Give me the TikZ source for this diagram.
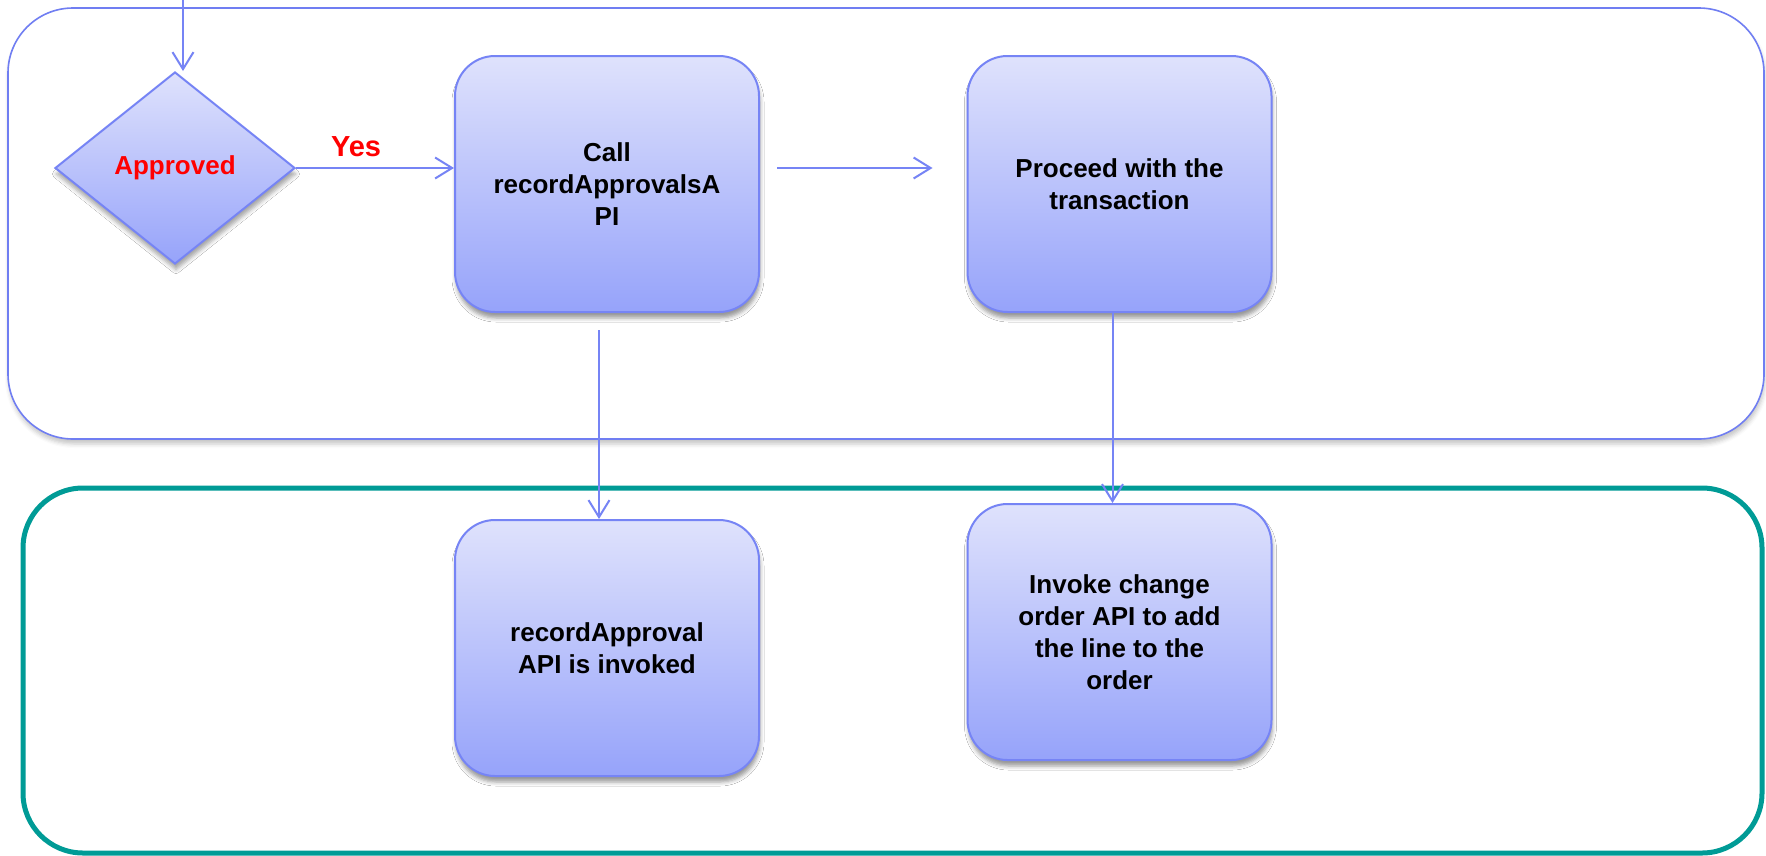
\documentclass[tikz,border=0pt]{standalone}
\usepackage{fontspec}
\setmainfont{Liberation Sans}
\usetikzlibrary{shapes.geometric,arrows.meta,shadows.blur,calc}

\definecolor{boxtop}{RGB}{223,226,252}
\definecolor{boxbot}{RGB}{150,163,250}
\definecolor{boxline}{RGB}{118,132,245}
\definecolor{laneline}{RGB}{112,126,242}
\definecolor{teal}{RGB}{0,155,150}
\definecolor{flagred}{RGB}{255,0,0}

\tikzset{
  lane/.style={draw=laneline, line width=1.6pt, rounded corners=65pt,
    fill=white, blur shadow={shadow xshift=1pt, shadow yshift=-5pt,
    shadow blur radius=4pt, shadow opacity=22}},
  lanetwo/.style={draw=teal, line width=5pt, rounded corners=60pt, fill=white},
  stepbox/.style={rectangle, rounded corners=40pt, draw=boxline, line width=2pt,
    top color=boxtop, bottom color=boxbot, minimum width=304pt,
    minimum height=256pt, inner sep=0pt, align=center,
    font=\fontsize{26}{32}\selectfont\bfseries,
    blur shadow={shadow xshift=1pt, shadow yshift=-6pt,
    shadow blur radius=4pt, shadow opacity=40}},
  decision/.style={diamond, draw=boxline, line width=2pt, top color=boxtop,
    bottom color=boxbot, minimum width=240pt, minimum height=192pt,
    inner sep=0pt, text=flagred, font=\fontsize{26}{32}\selectfont\bfseries,
    blur shadow={shadow xshift=1pt, shadow yshift=-6pt,
    shadow blur radius=4pt, shadow opacity=35}},
  arr/.style={draw=boxline, line width=2pt,
    -{Straight Barb[length=17pt, width=21pt, line width=2pt]}},
}

\begin{document}
\begin{tikzpicture}[x=1pt, y=-1pt]
  \useasboundingbox (0,0) rectangle (1766,855);

  % swimlanes
  \node[lane, minimum width=1756pt, minimum height=431pt, inner sep=0pt]
    (lanetop) at (886,223.5) {};
  \node[lanetwo, minimum width=1739pt, minimum height=365pt, inner sep=0pt]
    (lanebot) at (892.5,670.5) {};

  % decision and process steps
  \node[decision] (dia) at (175,168) {Approved};
  \node[stepbox] (b1) at (607,184) {Call\\recordApprovalsA\\PI};
  \node[stepbox] (b2) at (1119.5,184) {Proceed with the\\transaction};
  \node[stepbox] (b3) at (607,648) {recordApproval\\API is invoked};
  \node[stepbox] (b4) at (1119.5,632) {Invoke change\\order API to add\\the line to the\\order};

  % connectors
  \coordinate (entry) at (183,0);
  \draw[arr] (entry) -- (entry |- dia.north);
  \draw[arr] (dia.east) -- (dia.east -| b1.west)
    node[pos=0.38, yshift=21pt, text=flagred,
      font=\fontsize{29}{34}\selectfont\bfseries] (yes) {Yes};
  \draw[arr, shorten <=17pt, shorten >=34pt] (b1.east |- dia.east) -- (b2.west |- dia.east);
  \draw[arr, shorten <=17pt] ([xshift=-8pt]b1.south) -- ([xshift=-8pt]b3.north);
  \draw[arr] ([xshift=-7pt]b2.south) -- ([xshift=-7pt]b4.north);
\end{tikzpicture}
\end{document}
